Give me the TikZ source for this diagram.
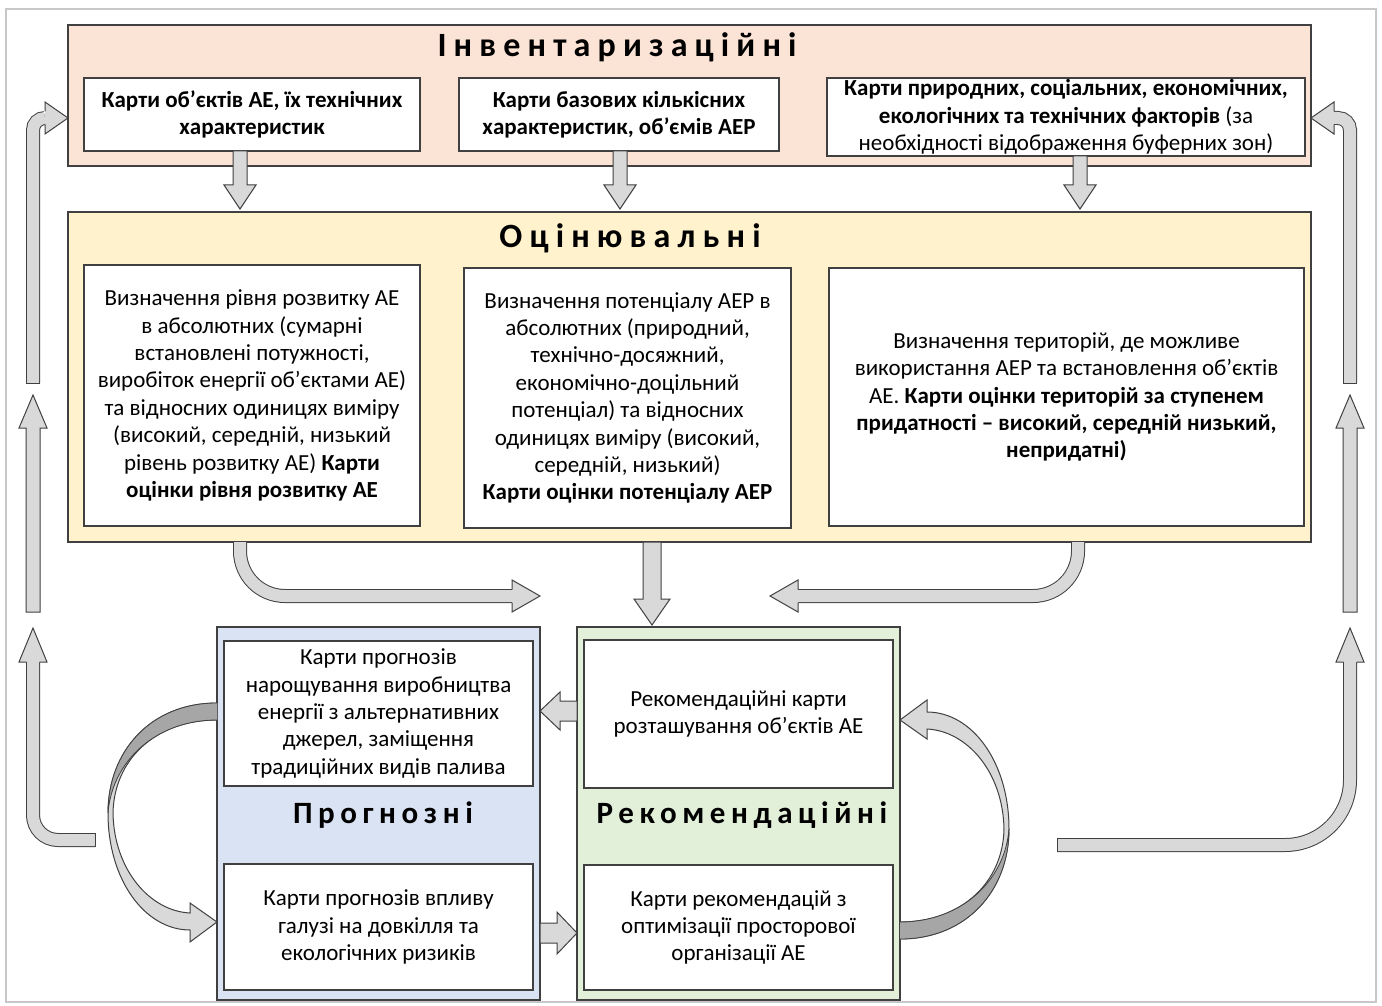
\documentclass[tikz,border=0pt]{standalone}
\usepackage{fontspec}
\setmainfont{Carlito}
\newfontfamily\ttlfont[LetterSpace=21]{Carlito}
\newfontfamily\ttlfontb[LetterSpace=18]{Carlito}
\usetikzlibrary{calc}
\definecolor{invfill}{HTML}{FBE3D6}
\definecolor{evalfill}{HTML}{FFF2CC}
\definecolor{progfill}{HTML}{DAE3F3}
\definecolor{recfill}{HTML}{E2F0D9}
\definecolor{arrfill}{HTML}{D9D9D9}
\definecolor{arrdark}{HTML}{A6A6A6}
\definecolor{linec}{HTML}{404040}
\definecolor{framec}{HTML}{C8C8C8}
\tikzset{
 band/.style={draw=linec, line width=1.2pt, anchor=north west, inner sep=0pt, outer sep=0pt},
 box/.style={draw=linec, fill=white, line width=1.2pt, anchor=north west, inner sep=0pt, outer sep=0pt, align=center, font=\fontsize{23}{27.4}\selectfont},
 ttl/.style={font=\ttlfont\bfseries\fontsize{34}{38}\selectfont, inner sep=0pt},
 ttlb/.style={font=\ttlfontb\bfseries\fontsize{31}{36}\selectfont, inner sep=0pt},
 blk/.style={fill=arrfill, draw=linec, line width=1pt, line join=miter},
 dbl/.style={draw=linec, line width=1pt, double=arrfill, double distance=12pt},
 capline/.style={draw=linec, line width=1pt},
 crv/.style={fill=arrfill, draw=linec, line width=1pt},
 crvdark/.style={fill=arrdark, draw=linec, line width=0.8pt},
}
\newcommand\sarrow[5]{%
 \coordinate (sab) at ($(#2)!#5pt!(#1)$);
 \draw[blk] ($(#1)!#3pt!90:(#2)$) -- ($(sab)!#3pt!90:(#2)$) -- ($(sab)!#4pt!90:(#2)$) -- (#2) -- ($(sab)!#4pt!-90:(#2)$) -- ($(sab)!#3pt!-90:(#2)$) -- ($(#1)!#3pt!-90:(#2)$) -- cycle;}
\newcommand\ahead[4]{%
 \draw[blk] ($(#1)!#3pt!90:(#2)$) -- ($(#1)!#4pt!90:(#2)$) -- (#2) -- ($(#1)!#4pt!-90:(#2)$) -- ($(#1)!#3pt!-90:(#2)$);}
\begin{document}
\begin{tikzpicture}[x=1pt,y=-1pt]
\path[use as bounding box] (0,0) rectangle (1382,1006);
\draw[framec, line width=1.2pt] (6,9) rectangle (1376,1002);

% bands
\node[band, fill=invfill, minimum width=1243pt, minimum height=141pt] (inv) at (68,25) {};
\node[band, fill=evalfill, minimum width=1243pt, minimum height=330pt] (eval) at (68,212) {};
\node[band, fill=progfill, minimum width=323pt, minimum height=373pt] (prog) at (217,627) {};
\node[band, fill=recfill, minimum width=323pt, minimum height=373pt] (rec) at (577,627) {};

% titles
\node[ttl] (tinv) at (617,47) {Інвентаризаційні};
\node[ttl] (teval) at (630,238) {Оцінювальні};
\node[ttlb] (tprog) at (383,815) {Прогнозні};
\node[ttlb] (trec) at (742,815) {Рекомендаційні};

% inventory boxes
\node[box, font=\fontsize{23}{27.4}\selectfont\bfseries, minimum width=336pt, minimum height=73pt] (t1) at (84,78)
 {Карти об'єктів АЕ, їх технічних\\характеристик};
\node[box, font=\fontsize{23}{27.4}\selectfont\bfseries, minimum width=320pt, minimum height=73pt] (t2) at (459,78)
 {Карти базових кількісних\\характеристик, об'ємів АЕР};
\node[box, minimum width=478pt, minimum height=78pt] (t3) at (827,78)
 {{\bfseries Карти природних, соціальних, економічних,}\\{\bfseries екологічних та технічних факторів} (за\\необхідності відображення буферних зон)};

% evaluation boxes
\node[box, minimum width=336pt, minimum height=261pt] (m1) at (84,265)
 {Визначення рівня розвитку АЕ\\в абсолютних (сумарні\\встановлені потужності,\\виробіток енергії об'єктами АЕ)\\та відносних одиницях виміру\\(високий, середній, низький\\рівень розвитку АЕ) {\bfseries Карти}\\{\bfseries оцінки рівня розвитку АЕ}};
\node[box, minimum width=327pt, minimum height=260pt] (m2) at (464,268)
 {Визначення потенціалу АЕР в\\абсолютних (природний,\\технічно-досяжний,\\економічно-доцільний\\потенціал) та відносних\\одиницях виміру (високий,\\середній, низький)\\{\bfseries Карти оцінки потенціалу АЕР}};
\node[box, minimum width=475pt, minimum height=258pt] (m3) at (829,268)
 {Визначення територій, де можливе\\використання АЕР та встановлення об'єктів\\АЕ. {\bfseries Карти оцінки територій за ступенем}\\{\bfseries придатності – високий, середній низький,}\\{\bfseries непридатні)}};

% forecast boxes
\node[box, minimum width=309pt, minimum height=145pt] (p1) at (224,641)
 {Карти прогнозів\\нарощування виробництва\\енергії з альтернативних\\джерел, заміщення\\традиційних видів палива};
\node[box, minimum width=309pt, minimum height=126pt] (p2) at (224,864)
 {Карти прогнозів впливу\\галузі на довкілля та\\екологічних ризиків};

% recommendation boxes
\node[box, minimum width=309pt, minimum height=148pt] (r1) at (584,640)
 {Рекомендаційні карти\\розташування об'єктів АЕ};
\node[box, minimum width=309pt, minimum height=125pt] (r2) at (584,865)
 {Карти рекомендацій з\\оптимізації просторової\\організації АЕ};

% inventory -> evaluation
\coordinate (d1s) at ($(t1.south)+(-12,0)$);
\coordinate (d1e) at ($(d1s |- eval.north)+(0,-3)$);
\sarrow{d1s}{d1e}{7}{16}{24}
\coordinate (d2s) at ($(t2.south)+(1,0)$);
\coordinate (d2e) at ($(d2s |- eval.north)+(0,-3)$);
\sarrow{d2s}{d2e}{7}{16}{24}
\coordinate (d3s) at ($(t3.south)+(14,0)$);
\coordinate (d3e) at ($(d3s |- eval.north)+(0,-3)$);
\sarrow{d3s}{d3e}{7}{16}{24}

% evaluation -> recommendation (straight)
\coordinate (ems) at ($(eval.south)+(-37.5,0)$);
\coordinate (eme) at ($(ems |- rec.north)+(0,-2)$);
\sarrow{ems}{eme}{9}{18}{26}

% evaluation -> bottom (curved)
\coordinate (cl0) at ($(eval.south west)+(172,0)$);
\coordinate (clb) at ($(cl0 |- 0,596)+(272,0)$);
\coordinate (clt) at ($(clb)+(28,0)$);
\draw[dbl, rounded corners=45pt] (cl0) -- (cl0 |- clb) -- (clb);
\ahead{clb}{clt}{6.5}{16}
\coordinate (cr0) at ($(eval.south west)+(1010,0)$);
\coordinate (crb) at ($(cr0 |- 0,596)+(-280,0)$);
\coordinate (crt) at ($(crb)+(-28,0)$);
\draw[dbl, rounded corners=45pt] (cr0) -- (cr0 |- crb) -- (crb);
\ahead{crb}{crt}{6.5}{16}

% between bottom panels
\coordinate (h1s) at ($(rec.north west)+(0,84)$);
\coordinate (h1e) at (h1s -| prog.east);
\sarrow{h1s}{h1e}{10}{19}{20}
\coordinate (h2s) at ($(prog.north east)+(0,306)$);
\coordinate (h2e) at (h2s -| rec.west);
\sarrow{h2s}{h2e}{10}{21}{20}

% left loop arrows
\coordinate (lb0) at (95,840);
\coordinate (lb1) at (33,662);
\coordinate (lbt) at (33,628);
\draw[dbl, rounded corners=25pt] (lb0) -- (lb0 -| lb1) -- (lb1);
\ahead{lb1}{lbt}{6.5}{14}
\draw[capline] ($(lb0)+(0,-7)$) -- ($(lb0)+(0,7)$);
\sarrow{33,612}{33,395}{7}{14}{33}
\coordinate (lt0) at (33,383);
\coordinate (ltt) at ($(inv.north west)+(0,93)$);
\coordinate (ltb) at ($(ltt)+(-23,0)$);
\draw[dbl, rounded corners=12pt] (lt0) -- (lt0 |- ltb) -- (ltb);
\ahead{ltb}{ltt}{6.5}{16}
\draw[capline] ($(lt0)+(-7,0)$) -- ($(lt0)+(7,0)$);

% right loop arrows
\coordinate (rb0) at (1057,845);
\coordinate (rb1) at (1350,662);
\coordinate (rbt) at (1350,628);
\draw[dbl, rounded corners=65pt] (rb0) -- (rb0 -| rb1) -- (rb1);
\ahead{rb1}{rbt}{6.5}{14}
\draw[capline] ($(rb0)+(0,-7)$) -- ($(rb0)+(0,7)$);
\sarrow{1350,612}{1350,395}{7}{14}{33}
\coordinate (rt0) at (1350,383);
\coordinate (rtt) at ($(inv.north east)+(0,93)$);
\coordinate (rtb) at ($(rtt)+(23,0)$);
\draw[dbl, rounded corners=12pt] (rt0) -- (rt0 |- rtb) -- (rtb);
\ahead{rtb}{rtt}{6.5}{16}
\draw[capline] ($(rt0)+(-7,0)$) -- ($(rt0)+(7,0)$);

% curved arrow p1 -> p2 (from prog west edge)
\draw[crv] (217,703) .. controls (150,703) and (108,752) .. (108,813) .. controls (108,880) and (145,930) .. (190,930) -- (190,942) -- (217,922) -- (190,903) -- (190,913) .. controls (150,911) and (114,870) .. (113,813) .. controls (114,760) and (155,720) .. (217,720);
\draw[crvdark] (217,703) .. controls (150,703) and (108,752) .. (108,813) .. controls (112,762) and (155,720) .. (217,720);

% curved arrow r2 -> r1 (from rec east edge)
\draw[crv] (900,939) .. controls (967,939) and (1009,890) .. (1009,829) .. controls (1009,762) and (972,712) .. (927,712) -- (927,700) -- (900,720) -- (927,739) -- (927,729) .. controls (967,731) and (1003,772) .. (1004,829) .. controls (1003,882) and (962,922) .. (900,922);
\draw[crvdark] (900,939) .. controls (967,939) and (1009,890) .. (1009,829) .. controls (1005,880) and (962,922) .. (900,922);
\end{tikzpicture}
\end{document}
